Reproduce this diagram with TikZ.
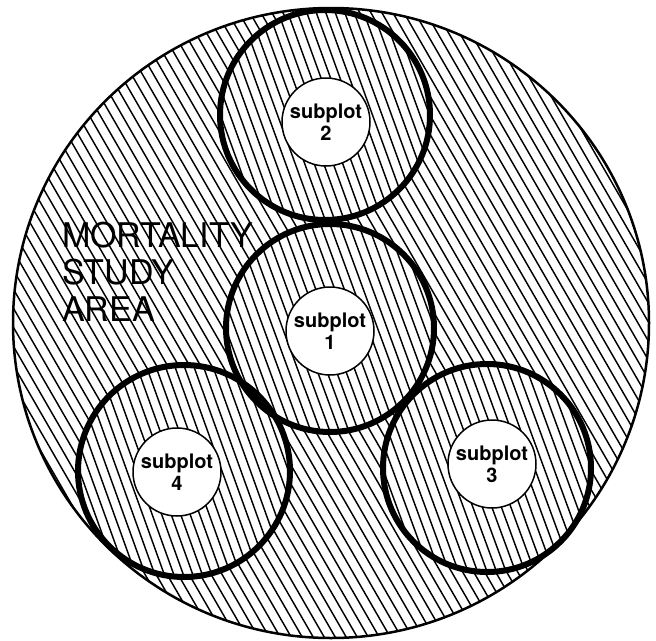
\documentclass[tikz,border=0pt]{standalone}
\usepackage{fontspec}
\setmainfont{TeX Gyre Heros}
\begin{document}
\begin{tikzpicture}[x=1pt, y=-1pt,
hatch/.style={line width=1.45pt},
plotring/.style={line width=6pt},
subplot/.style={circle, draw, line width=1.5pt, fill=white, minimum size=88pt, inner sep=0pt, align=center, font=\bfseries\fontsize{20}{22}\selectfont},
area/.style={anchor=north west, inner sep=0pt, align=left, font=\fontsize{34}{37}\selectfont}
]
\useasboundingbox (0,0) rectangle (656,640);

% Study area with its hatching
\begin{scope}
  \clip (331,323) ellipse [x radius=318, y radius=315];
  \foreach \x in {-418,-407,...,682}
    \draw[hatch] (\x,-20) -- ++(404,700);
\end{scope}

% Subplot rings, steeper hatching
\foreach \cx/\cy/\r in {330/328/104, 325/115/105, 487/468/104, 184/471/106}{
  \begin{scope}
    \clip (\cx,\cy) circle [radius=\r];
    \fill[white] (\cx,\cy) circle [radius=\r];
    \foreach \x in {-152,-142.5,...,152}
      \draw[hatch] (\cx+\x-40,\cy-\r-5) -- ++(80,2*\r+10);
  \end{scope}
}
\foreach \cx/\cy/\r in {330/328/104, 325/115/105, 487/468/104, 184/471/106}
  \draw[plotring] (\cx,\cy) circle [radius=\r];

% Outline of the study area
\draw[line width=2.5pt] (331,323) ellipse [x radius=318, y radius=315];

% Subplots
\node[subplot] (sub1) at (330,331) {subplot\\1};
\node[subplot] (sub2) at (326,122) {subplot\\2};
\node[subplot] (sub3) at (492,464) {subplot\\3};
\node[subplot] (sub4) at (177,472) {subplot\\4};

% Label
\node[area] (study) at (62,222) {MORTALITY\\STUDY\\AREA};

\end{tikzpicture}
\end{document}
